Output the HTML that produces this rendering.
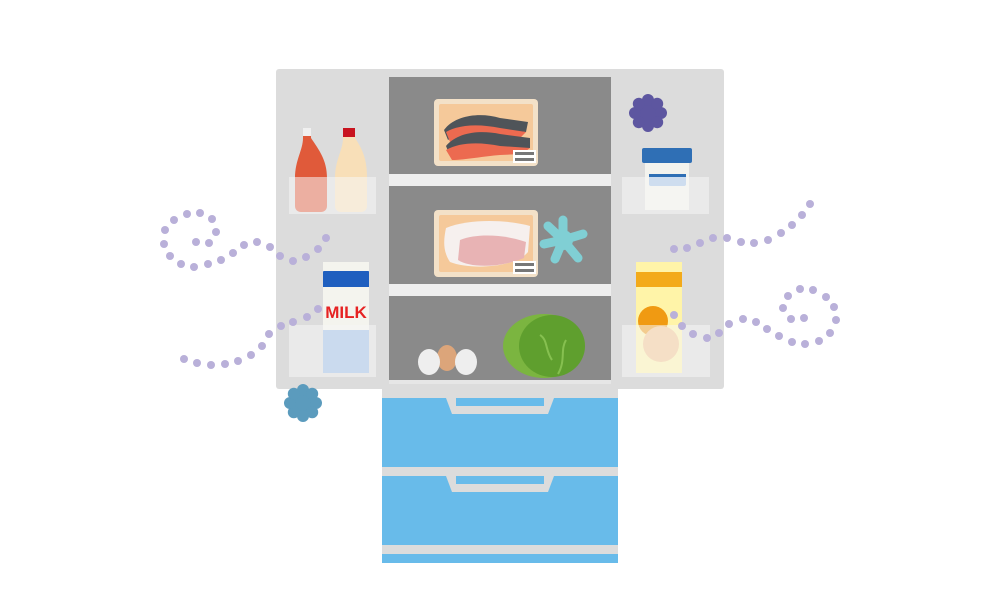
<!DOCTYPE html>
<html><head><meta charset="utf-8"><style>html,body{margin:0;padding:0;background:#fff;width:1000px;height:600px;overflow:hidden}</style></head>
<body>
<svg width="1000" height="600" viewBox="0 0 1000 600" xmlns="http://www.w3.org/2000/svg">
<defs>
<g id="germ"><circle r="13"/><circle cx="0" cy="-13" r="6"/><circle cx="9.2" cy="-9.2" r="6"/><circle cx="13" cy="0" r="6"/><circle cx="9.2" cy="9.2" r="6"/><circle cx="0" cy="13" r="6"/><circle cx="-9.2" cy="9.2" r="6"/><circle cx="-13" cy="0" r="6"/><circle cx="-9.2" cy="-9.2" r="6"/></g>
</defs>
<!-- drawers -->
<rect x="382" y="385" width="236" height="178" rx="3" fill="#dcdcdc"/>
<rect x="382" y="398" width="236" height="69" fill="#68bbea"/>
<rect x="382" y="476" width="236" height="69" fill="#68bbea"/>
<rect x="382" y="554" width="236" height="9" fill="#68bbea"/>
<path d="M446 398 L554 398 L548 414 L452 414 Z" fill="#dcdcdc"/>
<rect x="456" y="398" width="88" height="8" fill="#68bbea"/>
<path d="M446 476 L554 476 L548 492 L452 492 Z" fill="#dcdcdc"/>
<rect x="456" y="476" width="88" height="8" fill="#68bbea"/>
<!-- fridge body -->
<rect x="276" y="69" width="448" height="320" rx="3" fill="#dcdcdc"/>
<rect x="389" y="77" width="222" height="303" fill="#8a8a8a"/>
<rect x="389" y="174" width="222" height="12" fill="#eeeeee"/>
<rect x="389" y="284" width="222" height="12" fill="#eeeeee"/>
<rect x="389" y="380" width="222" height="4" fill="#e6e6e6"/>
<!-- blue germ -->
<use href="#germ" x="303" y="403" fill="#5b9bbd"/>
<!-- salmon tray -->
<rect x="434" y="99" width="104" height="67" rx="4" fill="#f3e1c8"/>
<rect x="439" y="104" width="94" height="57" rx="2" fill="#f5c99a"/>
<path d="M444 130 C455 115 480 112 500 118 L528 122 L526 132 L500 130 C480 128 460 132 448 140 Z" fill="#4f5459"/>
<path d="M446 132 C460 124 480 124 500 128 L526 132 L520 138 L500 137 C485 138 465 140 450 142 Z" fill="#ec6a50"/>
<path d="M446 146 C458 132 480 130 500 134 L530 138 L530 148 L500 148 C480 148 462 152 450 156 Z" fill="#4f5459"/>
<path d="M446 150 C460 142 480 142 500 146 L530 148 L522 154 L500 155 C485 156 465 160 452 160 Z" fill="#ec6a50"/>
<rect x="513" y="150" width="23" height="13" fill="#fff"/>
<rect x="515" y="152" width="19" height="3" fill="#777"/><rect x="515" y="158" width="19" height="3" fill="#777"/>
<!-- meat tray -->
<rect x="434" y="210" width="104" height="67" rx="4" fill="#f3e1c8"/>
<rect x="439" y="215" width="94" height="57" rx="2" fill="#f5c99a"/>
<path d="M446 228 C470 218 510 220 530 226 L528 252 C515 268 470 270 450 262 C442 250 444 238 446 228 Z" fill="#f6f0ee"/>
<path d="M460 240 C480 232 510 236 526 242 L524 258 C500 268 470 268 458 260 Z" fill="#e8b3b4"/>
<rect x="513" y="261" width="23" height="13" fill="#fff"/>
<rect x="515" y="263" width="19" height="3" fill="#777"/><rect x="515" y="269" width="19" height="3" fill="#777"/>
<!-- teal germ -->
<g fill="#80cfd4"><circle cx="563" cy="240" r="10"/><path d="M563 240 L563 220 M563 240 L583 234 M563 240 L578 258 M563 240 L555 259 M563 240 L544 244 M563 240 L548 226" stroke="#80cfd4" stroke-width="9" stroke-linecap="round"/></g>
<!-- eggs, cabbage -->
<ellipse cx="447" cy="358" rx="10" ry="13" fill="#dca57a"/>
<ellipse cx="429" cy="362" rx="11" ry="13" fill="#eeeeee"/>
<ellipse cx="466" cy="362" rx="11" ry="13" fill="#eeeeee"/>
<ellipse cx="544" cy="346" rx="41" ry="32" fill="#7bb540"/>
<ellipse cx="552" cy="346" rx="33" ry="31" fill="#5f9f2e"/>
<path d="M540 335 C548 340 545 350 552 360 M566 340 C560 350 566 360 558 374" stroke="#86c050" stroke-width="2" fill="none"/>
<!-- left door items -->
<path d="M303 128 h8 v10 c8 12 16 22 16 40 v28 c0 4 -3 6 -6 6 h-20 c-3 0 -6 -2 -6 -6 v-28 c0 -18 8 -28 8 -40 z" fill="#e05a3a"/>
<rect x="303" y="128" width="8" height="8" fill="#f0f0f0"/>
<path d="M343 128 h12 v10 c8 12 12 22 12 40 v28 c0 4 -3 6 -6 6 h-20 c-3 0 -6 -2 -6 -6 v-28 c0 -18 8 -28 8 -40 z" fill="#f8dfb8"/>
<rect x="343" y="128" width="12" height="9" fill="#c8131e"/>
<rect x="323" y="262" width="46" height="111" fill="#f4f4ee"/>
<path d="M323 272 L328 262 H366 L369 272 V287 H323 Z" fill="#1f5fbf"/>
<rect x="323" y="262" width="46" height="9" fill="#f4f4ee"/>
<text x="346" y="318" font-family="Liberation Sans, sans-serif" font-weight="bold" font-size="17" fill="#e62222" text-anchor="middle">MILK</text>
<rect x="323" y="330" width="46" height="43" fill="#95b8e4"/>
<!-- right door items -->
<use href="#germ" x="648" y="113" fill="#5d56a0"/>
<rect x="645" y="160" width="44" height="50" fill="#f3f3ee"/>
<rect x="642" y="148" width="50" height="15" rx="2" fill="#2f6fb5"/>
<rect x="649" y="174" width="37" height="12" rx="2" fill="#9dbfe6"/>
<rect x="649" y="174" width="37" height="3" fill="#2f6fb5"/>
<rect x="636" y="262" width="46" height="111" fill="#fff4a8"/>
<rect x="636" y="272" width="46" height="15" fill="#f3aa1a"/>
<circle cx="653" cy="321" r="15" fill="#f09a12"/>
<circle cx="661" cy="344" r="18" fill="#f4c38c"/>
<!-- pockets -->
<g fill="#f6f6f6" fill-opacity="0.55">
<rect x="289" y="177" width="87" height="37"/>
<rect x="289" y="325" width="87" height="52"/>
<rect x="622" y="177" width="87" height="37"/>
<rect x="622" y="325" width="88" height="52"/>
</g>
<!-- dots -->
<g fill="#b9b0d9">
<circle cx="326" cy="238" r="4"/><circle cx="318" cy="249" r="4"/><circle cx="306" cy="257" r="4"/><circle cx="293" cy="261" r="4"/><circle cx="280" cy="256" r="4"/><circle cx="270" cy="247" r="4"/><circle cx="257" cy="242" r="4"/><circle cx="244" cy="245" r="4"/><circle cx="233" cy="253" r="4"/><circle cx="221" cy="260" r="4"/><circle cx="208" cy="264" r="4"/><circle cx="194" cy="267" r="4"/><circle cx="181" cy="264" r="4"/><circle cx="170" cy="256" r="4"/><circle cx="164" cy="244" r="4"/><circle cx="165" cy="230" r="4"/><circle cx="174" cy="220" r="4"/><circle cx="187" cy="214" r="4"/><circle cx="200" cy="213" r="4"/><circle cx="212" cy="219" r="4"/><circle cx="216" cy="232" r="4"/><circle cx="209" cy="243" r="4"/><circle cx="196" cy="242" r="4"/>
<circle cx="318" cy="309" r="4"/><circle cx="307" cy="317" r="4"/><circle cx="293" cy="322" r="4"/><circle cx="281" cy="326" r="4"/><circle cx="269" cy="334" r="4"/><circle cx="262" cy="346" r="4"/><circle cx="251" cy="355" r="4"/><circle cx="238" cy="361" r="4"/><circle cx="225" cy="364" r="4"/><circle cx="211" cy="365" r="4"/><circle cx="197" cy="363" r="4"/><circle cx="184" cy="359" r="4"/>
<circle cx="810" cy="204" r="4"/><circle cx="802" cy="215" r="4"/><circle cx="792" cy="225" r="4"/><circle cx="781" cy="233" r="4"/><circle cx="768" cy="240" r="4"/><circle cx="754" cy="243" r="4"/><circle cx="741" cy="242" r="4"/><circle cx="727" cy="238" r="4"/><circle cx="713" cy="238" r="4"/><circle cx="700" cy="243" r="4"/><circle cx="687" cy="248" r="4"/><circle cx="674" cy="249" r="4"/>
<circle cx="674" cy="315" r="4"/><circle cx="682" cy="326" r="4"/><circle cx="693" cy="334" r="4"/><circle cx="707" cy="338" r="4"/><circle cx="719" cy="333" r="4"/><circle cx="729" cy="324" r="4"/><circle cx="743" cy="319" r="4"/><circle cx="756" cy="322" r="4"/><circle cx="767" cy="329" r="4"/><circle cx="779" cy="336" r="4"/><circle cx="792" cy="342" r="4"/><circle cx="805" cy="344" r="4"/><circle cx="819" cy="341" r="4"/><circle cx="830" cy="333" r="4"/><circle cx="836" cy="320" r="4"/><circle cx="834" cy="307" r="4"/><circle cx="826" cy="297" r="4"/><circle cx="813" cy="290" r="4"/><circle cx="800" cy="289" r="4"/><circle cx="788" cy="296" r="4"/><circle cx="783" cy="308" r="4"/><circle cx="791" cy="319" r="4"/><circle cx="804" cy="318" r="4"/>
</g>
</svg>
</body></html>
